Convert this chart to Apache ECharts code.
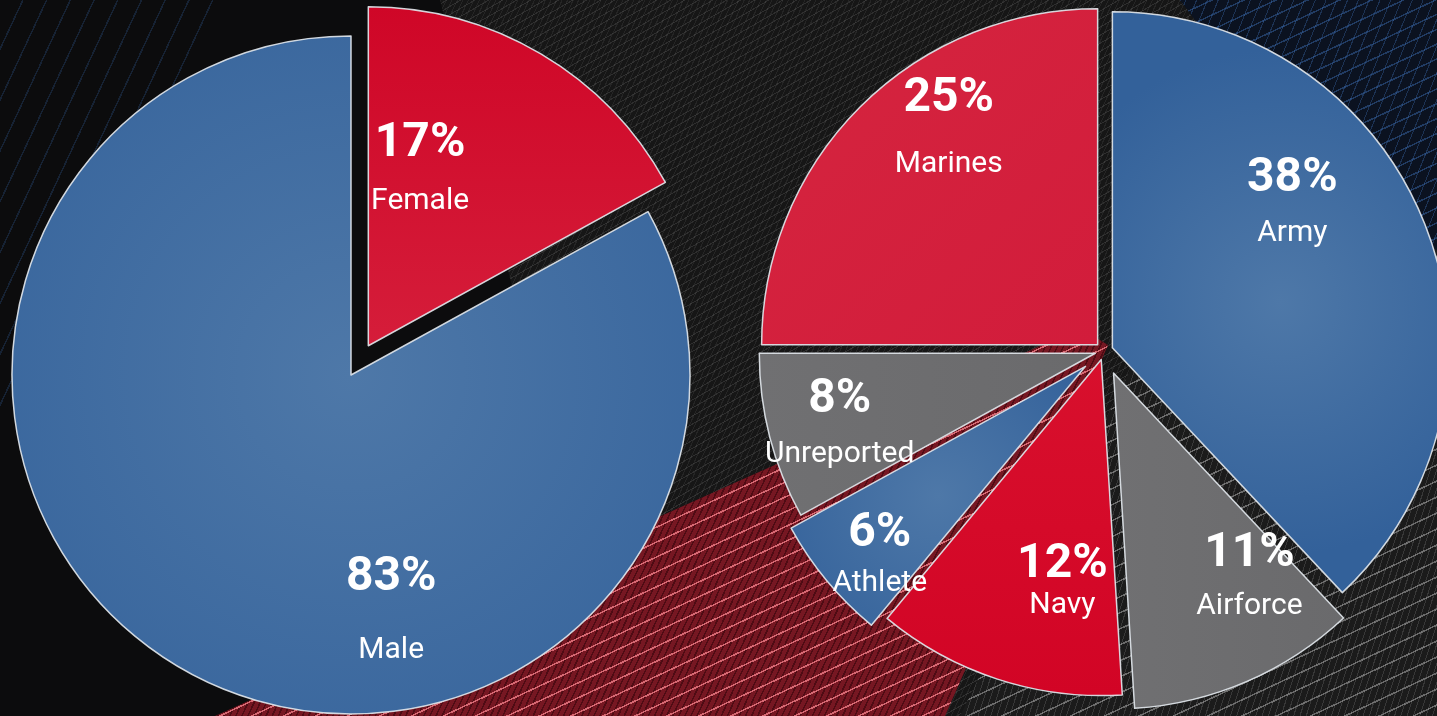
<!DOCTYPE html>
<html>
<head>
<meta charset="utf-8">
<script src="https://cdn.jsdelivr.net/npm/echarts@6/dist/echarts.min.js"></script>
<style>
html,body{margin:0;padding:0;width:1437px;height:716px;overflow:hidden;background:#0c0c0d;}
.layer{position:absolute;left:0;top:0;width:1437px;height:716px;}
#tl{clip-path:polygon(0 0,230px 0,0 430px);
 background:repeating-linear-gradient(115deg,rgba(0,0,0,0) 0 20px,rgba(45,85,140,0.3) 20px 21.5px);}
#gray{clip-path:polygon(440px 0,1437px 0,1437px 716px,620px 716px);
 background:
  repeating-linear-gradient(150deg,rgba(0,0,0,0) 0 6px,rgba(110,110,110,0.28) 6px 7px),
  repeating-linear-gradient(115deg,rgba(0,0,0,0) 0 4px,rgba(90,90,90,0.22) 4px 5px),
  #161616;}
#br{clip-path:polygon(960px 716px,1437px 716px,1437px 140px,1150px 330px);
 background:
  repeating-linear-gradient(155deg,rgba(0,0,0,0) 0 13px,rgba(200,200,200,0.45) 13px 14.5px),
  repeating-linear-gradient(108deg,rgba(0,0,0,0) 0 5px,rgba(140,140,140,0.25) 5px 6px),
  #1b1b1b;}
#tr{clip-path:polygon(1180px 0,1437px 0,1437px 250px,1300px 160px);
 background:
  repeating-linear-gradient(155deg,rgba(0,0,0,0) 0 12px,rgba(60,110,180,0.45) 12px 13.5px),
  repeating-linear-gradient(112deg,rgba(0,0,0,0) 0 9px,rgba(60,110,180,0.35) 9px 10px),
  #0b1220;}
#red{clip-path:polygon(215px 716px,1080px 328px,1108px 345px,945px 716px);
 background:
  repeating-linear-gradient(155deg,rgba(0,0,0,0) 0 12px,rgba(240,125,135,0.8) 12px 13.5px),
  repeating-linear-gradient(115deg,rgba(0,0,0,0) 0 4px,rgba(40,0,6,0.5) 4px 5.5px),
  #761722;}
#chart{position:absolute;left:0;top:0;width:1437px;height:716px;}
</style>
</head>
<body>
<div class="layer" id="tl"></div>
<div class="layer" id="gray"></div>
<div class="layer" id="br"></div>
<div class="layer" id="tr"></div>
<div class="layer" id="red"></div>
<div id="chart"></div>
<script>
// ---- data ----
const genderNames = ['Female', 'Male'];
const genderValues = [17, 83];
const branchNames = ['Army', 'Airforce', 'Navy', 'Athlete', 'Unreported', 'Marines'];
const branchValues = [38, 11, 12, 6, 8, 25];

// ---- styles ----
const BLUE = {type:'radial', x:0.5, y:0.5, r:0.75, colorStops:[{offset:0,color:'#4e78a8'},{offset:1,color:'#33619a'}]};
const RED = {type:'linear', x:0, y:0, x2:0, y2:1, colorStops:[{offset:0,color:'#cf0627'},{offset:1,color:'#d51d3a'}]};
const PINK = {type:'linear', x:0, y:0, x2:1, y2:1, colorStops:[{offset:0,color:'#d5253f'},{offset:1,color:'#d21c3b'}]};
const NAVYRED = {type:'linear', x:0, y:0, x2:0, y2:1, colorStops:[{offset:0,color:'#d8102d'},{offset:1,color:'#d20425'}]};
const GRAY = {type:'linear', x:0, y:0, x2:1, y2:0, colorStops:[{offset:0,color:'#707072'},{offset:1,color:'#6a6a6c'}]};
const genderColors = [RED, BLUE];
const branchColors = [BLUE, GRAY, NAVYRED, BLUE, GRAY, PINK];
// which right-pie slices are pulled out further
const branchGroup = [0, 1, 0, 1, 0, 0];
// label shifts from the default inside position, and name line height
const genderShift = [[-36, -26], [128, 97]];
const genderLineH = [54, 84];
const branchShift = [[21, -81], [68, 47], [14, 53], [-74, 78], [-90, 29], [-28, -89]];
const branchLineH = [50, 46, 20, 38, 50, 72];

const BORDER = 'rgba(225,230,236,0.92)';

function labelFor(lineH) {
  return {
    show: true,
    position: 'inside',
    formatter: p => '{p|' + p.value + '%}\n{n|' + p.name + '}',
    rich: {
      p: {fontFamily: 'Roboto', fontWeight: 'bold', fontSize: 48, color: '#ffffff', lineHeight: 60, align: 'center'},
      n: {fontFamily: 'Roboto', fontWeight: 'normal', fontSize: 30, color: '#ffffff', lineHeight: lineH, align: 'center'}
    }
  };
}

function styleFor(color) {
  return {color: color, borderColor: BORDER, borderWidth: 1.5};
}

const leftData = genderNames.map((n, i) => ({
  name: n, value: genderValues[i], selected: i === 0,
  itemStyle: styleFor(genderColors[i]),
  select: {itemStyle: styleFor(genderColors[i])},
  label: labelFor(genderLineH[i])
}));

function rightData(group) {
  return branchNames.map((n, i) => {
    const mine = branchGroup[i] === group;
    if (!mine) {
      return {name: n, value: branchValues[i],
        itemStyle: {color: 'rgba(0,0,0,0)', borderWidth: 0},
        select: {itemStyle: {color: 'rgba(0,0,0,0)', borderWidth: 0}},
        label: {show: false}};
    }
    return {name: n, value: branchValues[i], selected: true,
      itemStyle: styleFor(branchColors[i]),
      select: {itemStyle: styleFor(branchColors[i])},
      label: labelFor(branchLineH[i])};
  });
}

function pieBase(center, radius, offset, data, shifts) {
  return {
    type: 'pie',
    center: center,
    radius: radius,
    startAngle: 90,
    clockwise: true,
    selectedMode: 'multiple',
    selectedOffset: offset,
    avoidLabelOverlap: false,
    silent: true,
    animation: false,
    emphasis: {disabled: true},
    label: labelFor(50),
    labelLine: {show: false},
    labelLayout: p => ({dx: shifts[p.dataIndex][0], dy: shifts[p.dataIndex][1]}),
    data: data
  };
}

const chart = echarts.init(document.getElementById('chart'), null, {renderer: 'canvas'});
chart.setOption({
  backgroundColor: 'transparent',
  animation: false,
  series: [
    pieBase([351, 375], 339, 34, leftData, genderShift),
    pieBase([1104, 351], 336, 9, rightData(0), branchShift),
    pieBase([1104, 351], 336, 24, rightData(1), branchShift)
  ]
});
</script>
</body>
</html>
